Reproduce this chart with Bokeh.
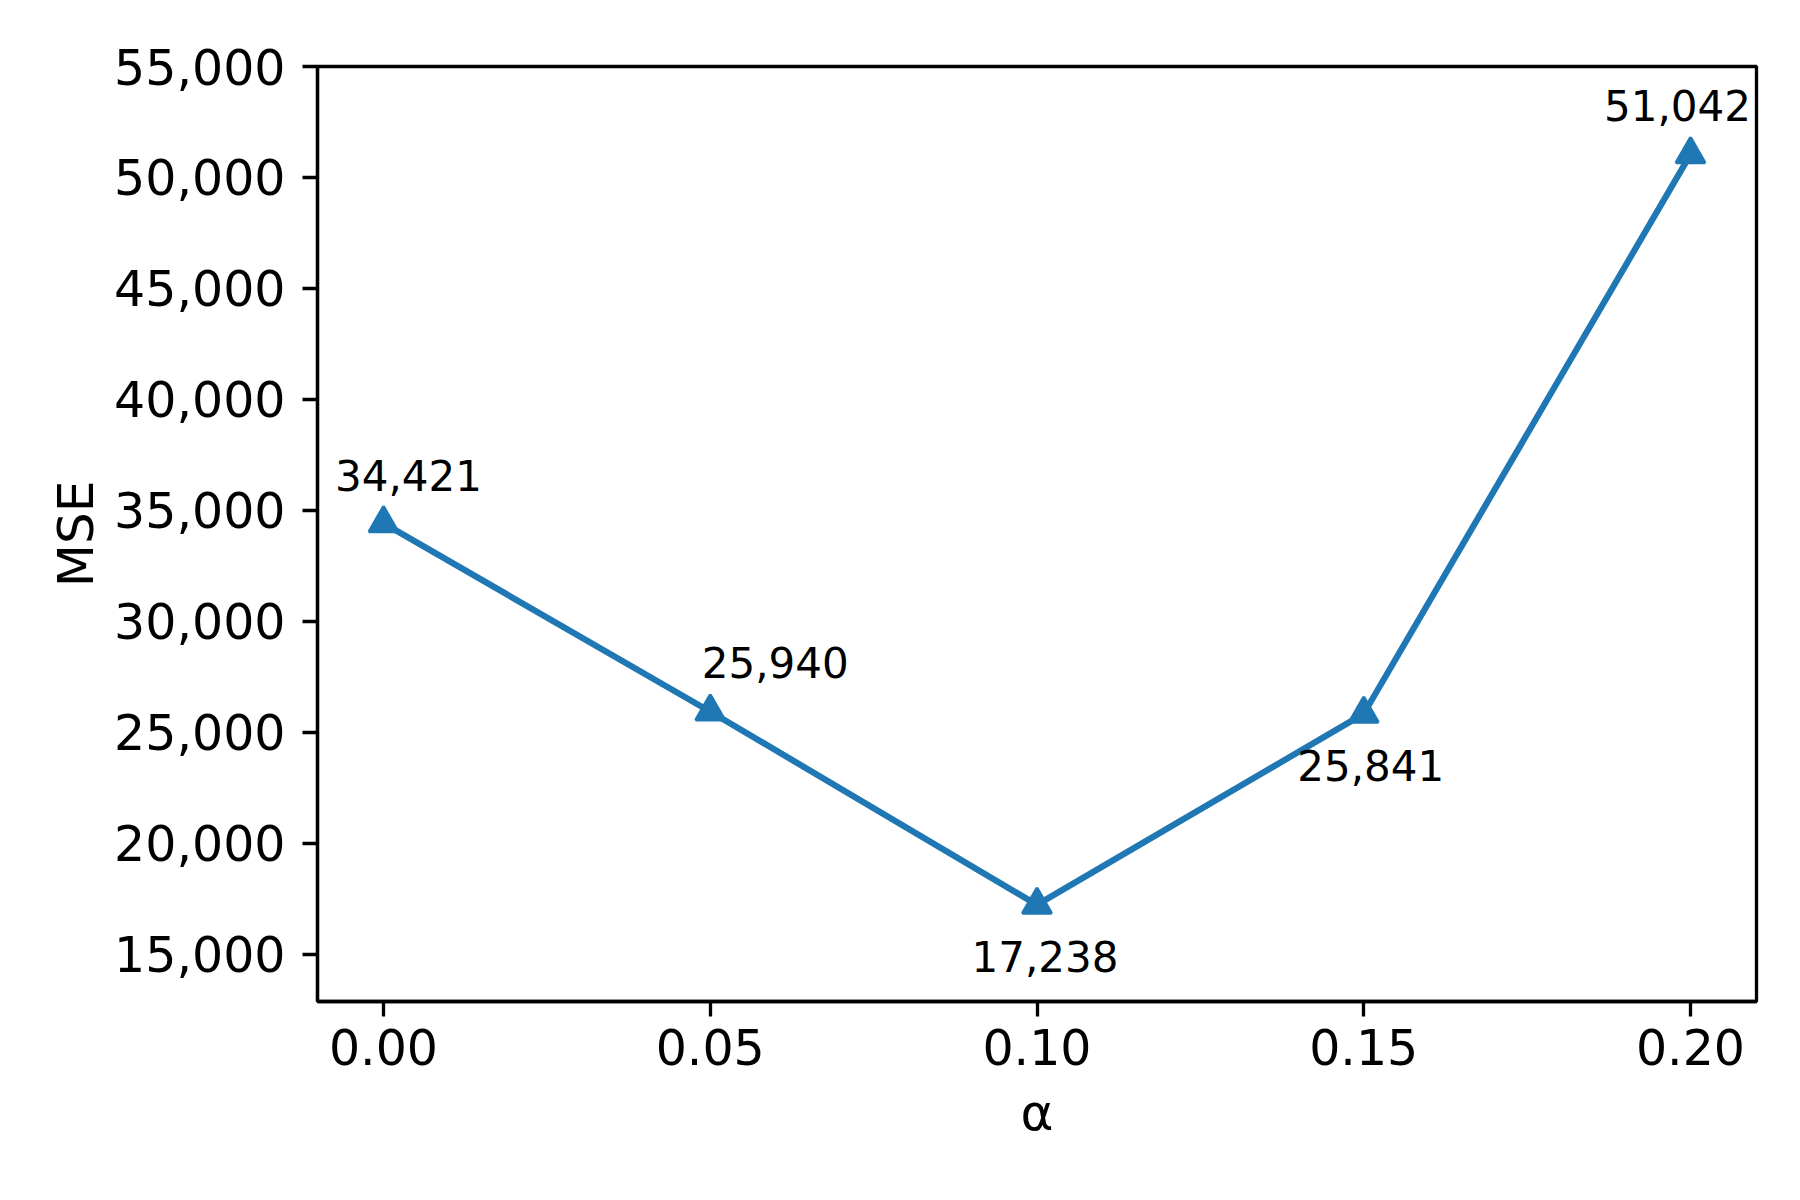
from bokeh.plotting import figure
from bokeh.models import Range1d, FixedTicker, NumeralTickFormatter, ColumnDataSource
from bokeh.core.properties import value
from bokeh.embed import file_html
from bokeh.resources import INLINE

# data
alpha = [0.00, 0.05, 0.10, 0.15, 0.20]
mse = [34421, 25940, 17238, 25841, 51042]
labels = ["34,421", "25,940", "17,238", "25,841", "51,042"]
x_ticks = [0.00, 0.05, 0.10, 0.15, 0.20]
y_ticks = [15000, 20000, 25000, 30000, 35000, 40000, 45000, 50000, 55000]

# label placement (screen-pixel offsets, styling only)
lab_dx = [25, 65, 8, 7, -13]
lab_dy = [-48, -49, 52, 52, -49]

FONT = "DejaVu Sans"
BLUE = "#1f77b4"

p = figure(width=1784, height=1184, output_backend="svg", toolbar_location=None,
           x_range=Range1d(-0.0101, 0.2101), y_range=Range1d(12880, 55000))
p.frame_width = 1439
p.frame_height = 935
p.min_border_left = 317
p.min_border_right = 28
p.min_border_top = 66
p.min_border_bottom = 183

p.background_fill_color = "white"
p.border_fill_color = "white"
p.xgrid.visible = False
p.ygrid.visible = False
p.outline_line_color = "black"
p.outline_line_width = 3.3
p.outline_line_alpha = 1.0

for ax in (p.xaxis[0], p.yaxis[0]):
    ax.axis_line_color = "black"
    ax.axis_line_width = 3.3
    ax.major_tick_line_color = "black"
    ax.major_tick_line_width = 3.3
    ax.major_tick_out = 15
    ax.major_tick_in = 0
    ax.minor_tick_line_color = None
    ax.major_label_text_font = FONT
    ax.major_label_text_font_size = "49px"
    ax.major_label_text_color = "black"
    ax.axis_label_text_font = FONT
    ax.axis_label_text_font_size = "50px"
    ax.axis_label_text_font_style = "normal"
    ax.axis_label_text_color = "black"

p.xaxis[0].ticker = FixedTicker(ticks=x_ticks)
p.xaxis[0].formatter = NumeralTickFormatter(format="0.00")
p.xaxis[0].major_label_standoff = 12
p.xaxis[0].axis_label = "α"
p.xaxis[0].axis_label_standoff = 16

p.yaxis[0].ticker = FixedTicker(ticks=y_ticks)
p.yaxis[0].formatter = NumeralTickFormatter(format="0,0")
p.yaxis[0].major_label_standoff = 17
p.yaxis[0].axis_label = "MSE"
p.yaxis[0].axis_label_standoff = 6

src = ColumnDataSource(dict(x=alpha, y=mse, t=labels, dx=lab_dx, dy=lab_dy))
p.line("x", "y", source=src, line_color=BLUE, line_width=6.25)
p.scatter("x", "y", source=src, marker="triangle", size=29,
          fill_color=BLUE, line_color=BLUE, line_width=3)
p.text("x", "y", text="t", source=src, x_offset="dx", y_offset="dy",
       text_align="center", text_baseline="alphabetic",
       text_font=value(FONT), text_font_size="42px", text_color="black")

open("out.html", "w").write(file_html(p, INLINE))
